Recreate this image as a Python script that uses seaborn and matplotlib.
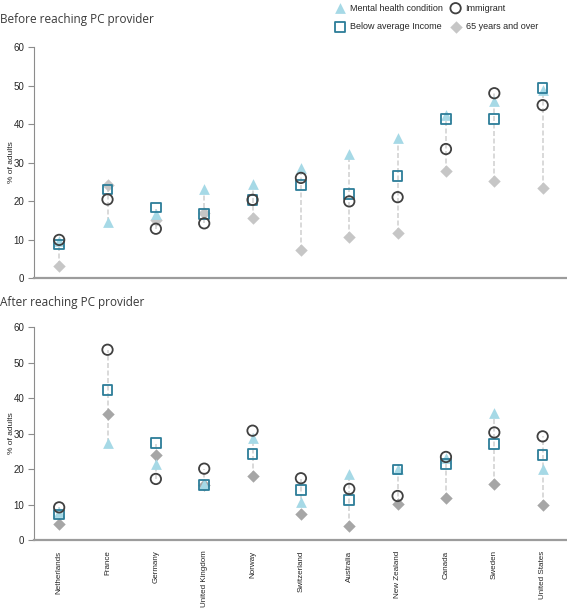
import pandas as pd
import matplotlib.pyplot as plt
import seaborn as sns

countries = ["Netherlands", "France", "Germany", "United Kingdom", "Norway",
             "Switzerland", "Australia", "New Zealand", "Canada", "Sweden",
             "United States"]

# Before reaching PC provider
before_mental = [9.6, 14.5, 16.5, 23.2, 24.5, 28.5, 32.2, 36.4, 42.3, 46.0, 48.8]
before_income = [8.7, 23.0, 18.3, 16.6, 20.3, 24.2, 21.8, 26.5, 41.3, 41.3, 49.4]
before_immig = [9.9, 20.4, 12.8, 14.2, 20.3, 26.0, 19.9, 21.0, 33.5, 48.0, 44.9]
before_65 = [3.2, 24.2, 15.1, 17.0, 15.5, 7.4, 10.6, 11.8, 27.7, 25.3, 23.3]

# After reaching PC provider
after_mental = [7.8, 27.2, 21.5, 15.8, 28.6, 10.8, 18.6, 20.0, 23.2, 35.9, 19.9]
after_income = [7.2, 42.3, 27.3, 15.5, 24.2, 14.0, 11.2, 19.9, 21.4, 27.1, 23.9]
after_immig = [9.2, 53.6, 17.2, 20.1, 30.8, 17.4, 14.4, 12.4, 23.4, 30.3, 29.2]
after_65 = [4.5, 35.4, 24.0, 15.5, 17.9, 7.4, 4.0, 10.1, 11.9, 15.8, 9.8]

groups = ["65 years and over", "Mental health condition",
          "Below average Income", "Immigrant"]

sns.set_theme(style="white")
plt.rcParams["font.family"] = ["Liberation Sans Narrow", "Liberation Sans", "DejaVu Sans"]


def long_table(mental, income, immig, old):
    df = pd.DataFrame({"country": countries,
                       "Mental health condition": mental,
                       "Below average Income": income,
                       "Immigrant": immig,
                       "65 years and over": old})
    return df.melt(id_vars="country", var_name="group", value_name="pct")


panels = [
    ("Before reaching PC provider",
     long_table(before_mental, before_income, before_immig, before_65), "#c6c6c6"),
    ("After reaching PC provider",
     long_table(after_mental, after_income, after_immig, after_65), "#a6a6a6"),
]

fig = plt.figure(figsize=(5.67, 6.09), dpi=100)
ax_top = fig.add_axes([0.060, 0.5435, 0.938, 0.3793])
ax_bot = fig.add_axes([0.060, 0.1133, 0.938, 0.3497])

for ax, (title, df, grey) in zip([ax_top, ax_bot], panels):
    styles = {
        "65 years and over": dict(marker="D", s=40, color=grey, edgecolor=grey, linewidth=0),
        "Mental health condition": dict(marker="^", s=60, color="#a6d9e6", edgecolor="#a6d9e6", linewidth=0),
        "Below average Income": dict(marker="s", s=48, facecolor="none", edgecolor="#2c7d99", linewidth=1.3),
        "Immigrant": dict(marker="o", s=56, facecolor="none", edgecolor="#404040", linewidth=1.3),
    }
    rng = df.groupby("country", sort=False)["pct"].agg(["min", "max"]).reindex(countries)
    ax.vlines(countries, rng["min"], rng["max"], colors="#d3d3d3",
              linestyles=(0, (3, 1.5)), linewidth=1.2, zorder=1)
    for g in groups:
        sub = df[df["group"] == g]
        sns.scatterplot(data=sub, x="country", y="pct", ax=ax, label=g,
                        legend=False, zorder=3, **styles[g])
    ax.set_xlim(-0.52, 10.48)
    ax.set_ylim(0, 60)
    ax.set_yticks(range(0, 61, 10))
    ax.set_xlabel("")
    ax.set_ylabel("% of adults", fontsize=6)
    ax.yaxis.set_label_coords(-0.036, 0.5)
    sns.despine(ax=ax)
    ax.spines["left"].set_color("#8c8c8c")
    ax.spines["left"].set_linewidth(0.8)
    ax.spines["bottom"].set_color("#9c9c9c")
    ax.spines["bottom"].set_linewidth(1.6)
    ax.tick_params(axis="y", left=True, length=4, width=0.8, color="#8c8c8c",
                   labelsize=7, pad=3)
    ax.tick_params(axis="x", bottom=False, pad=1.5)

ax_top.set_xticklabels([])
ax_bot.set_xticks(range(len(countries)))
ax_bot.set_xticklabels(countries, rotation=90, fontsize=5.8)

fig.text(0.0, 0.968, "Before reaching PC provider", fontsize=8.5,
         family=["Open Sans", "DejaVu Sans"], color="#3a3a3a", va="center")
fig.text(0.0, 0.503, "After reaching PC provider", fontsize=8.5,
         family=["Open Sans", "DejaVu Sans"], color="#3a3a3a", va="center")

handles, labels = ax_top.get_legend_handles_labels()
order = ["Mental health condition", "Below average Income", "Immigrant", "65 years and over"]
hmap = dict(zip(labels, handles))
fig.legend([hmap[o] for o in order], order, ncol=2, frameon=False,
           loc="upper right", bbox_to_anchor=(0.958, 1.003), fontsize=6.5,
           handletextpad=0.1, columnspacing=0.4, labelspacing=1.05,
           borderaxespad=0.2)

fig.savefig("out.png", dpi=100)
